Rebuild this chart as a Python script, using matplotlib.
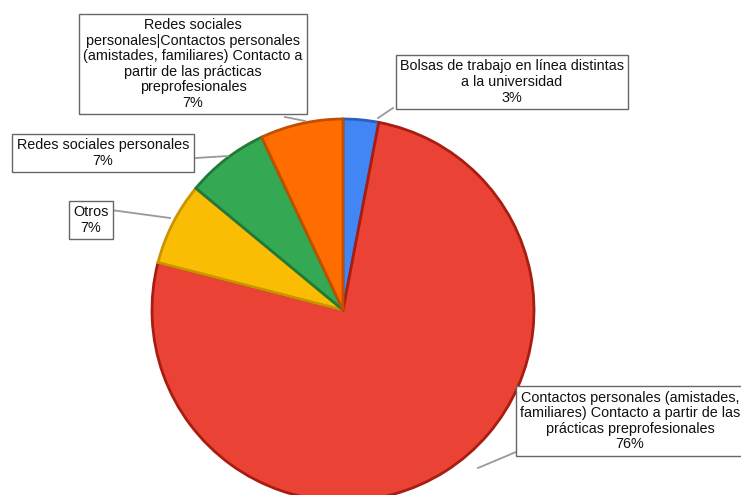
import matplotlib.pyplot as plt

categorias = [
    "Bolsas de trabajo en línea distintas\na la universidad",
    "Contactos personales (amistades,\nfamiliares) Contacto a partir de las\nprácticas preprofesionales",
    "Otros",
    "Redes sociales personales",
    "Redes sociales\npersonales|Contactos personales\n(amistades, familiares) Contacto a\npartir de las prácticas\npreprofesionales",
]
porcentajes = [3, 76, 7, 7, 7]
colores = ["#4285F4", "#EA4335", "#FBBC04", "#34A853", "#FF6D01"]
bordes = ["#2a5fc0", "#a81c12", "#c99400", "#1f7a38", "#c24f00"]

W, H = 741, 495
plt.rcParams['font.family'] = ['Liberation Sans', 'DejaVu Sans']

fig = plt.figure(figsize=(W / 100, H / 100), dpi=100)
ax = fig.add_axes([0, 0, 1, 1])

def py(y):
    return H - y

cx, cy, r = 343, 310, 191
wedges, _ = ax.pie(porcentajes, colors=colores, startangle=90, counterclock=False,
                   center=(cx, py(cy)), radius=r, frame=True)
for w, b in zip(wedges, bordes):
    w.set_edgecolor(b)
    w.set_linewidth(2)
ax.set_xlim(0, W)
ax.set_ylim(0, H)
ax.set_aspect('equal')
ax.axis('off')

# centro del texto, punta del conector, inicio del conector (en pixeles)
etiquetas = [
    ((512, 82), (378, 118), (393, 108)),
    ((630, 421), (478, 468), (516, 452)),
    ((91, 220), (170, 218), (111, 210)),
    ((103, 153), (228, 156), (196, 158)),
    ((193, 64), (305, 121), (285, 117)),
]
for cat, val, ((tx, ty), (ax_, ay), (bx, by)) in zip(categorias, porcentajes, etiquetas):
    ax.plot([bx, ax_], [py(by), py(ay)], color='#999999', lw=1.3, zorder=3)
    ax.text(tx, py(ty), f"{cat}\n{val}%", ha='center', va='center', fontsize=10.4,
            linespacing=1.15, color='#111111', zorder=4,
            bbox=dict(boxstyle='square,pad=0.3', fc='white', ec='#666666', lw=1))

fig.savefig("out.png", dpi=100)
